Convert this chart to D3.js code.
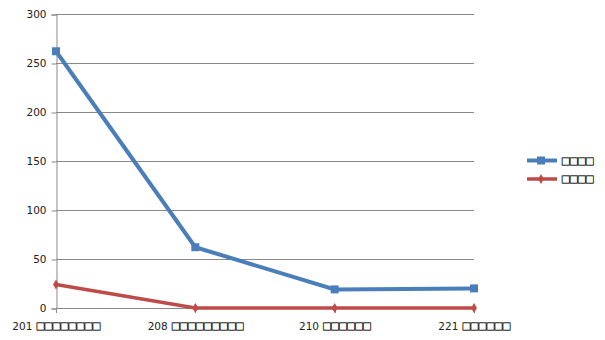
<!DOCTYPE html>
<html>
<head>
<meta charset="utf-8">
<script src="https://cdn.jsdelivr.net/npm/d3@7"></script>
<style>
  body { margin: 0; background: #fff; }
  text { font-family: "DejaVu Sans", sans-serif; }
</style>
</head>
<body>
<div id="chart"></div>
<script>
"use strict"

/* data (the names only show as empty boxes in the reference) */
let categories = ["201 □□□□□□□□", "208 □□□□□□□□□", "210 □□□□□□", "221 □□□□□□"];
let seriesNames = ["□□□□", "□□□□"];
let blueValues = [262, 62, 19, 20];
let redValues = [24, 0, 0, 0];
let yTickValues = [0, 50, 100, 150, 200, 250, 300];

/* drawing config */
let svgWidth = 605;
let svgHeight = 340;
let blue = "#4a7ebb";
let red = "#be4b48";
let gridColor = "#898989";
let boxAdvance = 8; // width per box glyph in the reference

let svg = d3.select("#chart")
    .append("svg")
    .attr("width", svgWidth)
    .attr("height", svgHeight);

let xScale = d3.scalePoint()
    .domain(categories)
    .range([56, 474]);

let yScale = d3.scaleLinear()
    .domain([0, 300])
    .range([308, 14]);

/* horizontal grid */
svg.selectAll(".grid")
    .data(yTickValues)
    .join("line")
    .attr("class", "grid")
    .attr("x1", xScale.range()[0])
    .attr("x2", xScale.range()[1])
    .attr("y1", d => Math.round(yScale(d)) + 0.5)
    .attr("y2", d => Math.round(yScale(d)) + 0.5)
    .attr("stroke", gridColor)
    .attr("stroke-width", 1);

/* y axis */
let yAxis = svg.append("g")
    .attr("transform", "translate(56.5,0.5)")
    .call(d3.axisLeft(yScale).tickValues(yTickValues).tickSize(5).tickPadding(5));
yAxis.select(".domain").attr("stroke", gridColor);
yAxis.selectAll(".tick line").attr("stroke", gridColor);
yAxis.selectAll(".tick text")
    .attr("fill", "#222")
    .style("font-size", "10.5px")
    .style("font-family", "DejaVu Sans, sans-serif");

/* x axis ticks */
svg.selectAll(".xtick")
    .data(categories)
    .join("line")
    .attr("class", "xtick")
    .attr("x1", d => Math.round(xScale(d)) + 0.5)
    .attr("x2", d => Math.round(xScale(d)) + 0.5)
    .attr("y1", yScale(0))
    .attr("y2", yScale(0) + 5)
    .attr("stroke", gridColor);

// text made of a number part and a box part
function boxText(sel) {
    sel.each(function(d) {
        let t = d3.select(this);
        let parts = d.split(" ");
        if (parts.length > 1) {
            t.append("tspan")
                .attr("fill", "#222")
                .style("font-size", "10.5px")
                .text(parts[0] + " ");
        }
        let boxes = t.append("tspan")
            .attr("class", "boxes")
            .attr("fill", "#000")
            .attr("stroke", "#000")
            .attr("stroke-width", 0.3)
            .style("font-family", "Noto Sans CJK SC, sans-serif")
            .style("font-size", "9.5px")
            .text(parts[parts.length - 1]);
        let n = parts[parts.length - 1].length;
        let adv = boxes.node().getComputedTextLength() / n;
        boxes.attr("letter-spacing", boxAdvance - adv);
    });
}

svg.selectAll(".xlabel")
    .data(categories)
    .join("text")
    .attr("class", "xlabel")
    .attr("x", d => xScale(d))
    .attr("y", 330)
    .attr("text-anchor", "middle")
    .call(boxText);

/* lines */
let line = d3.line()
    .x((d, i) => xScale(categories[i]))
    .y(d => yScale(d));

svg.append("path")
    .datum(redValues)
    .attr("d", line)
    .attr("fill", "none")
    .attr("stroke", red)
    .attr("stroke-width", 3.5);

svg.append("path")
    .datum(blueValues)
    .attr("d", line)
    .attr("fill", "none")
    .attr("stroke", blue)
    .attr("stroke-width", 4);

/* markers */
let square = d3.symbol().type(d3.symbolSquare).size(64);
let diamond = d3.symbol().type(d3.symbolDiamond).size(30);

svg.selectAll(".blueDot")
    .data(blueValues)
    .join("path")
    .attr("class", "blueDot")
    .attr("d", square)
    .attr("transform", (d, i) => "translate(" + xScale(categories[i]) + "," + yScale(d) + ")")
    .attr("fill", blue);

svg.selectAll(".redDot")
    .data(redValues)
    .join("path")
    .attr("class", "redDot")
    .attr("d", diamond)
    .attr("transform", (d, i) => "translate(" + xScale(categories[i]) + "," + yScale(d) + ")")
    .attr("fill", red);

/* legend */
let legendX = 527;
let legendY = 160.5;
let legendData = [
    { name: seriesNames[0], color: blue, width: 4, symbol: square },
    { name: seriesNames[1], color: red, width: 3.5, symbol: diamond }
];

let legend = svg.selectAll(".legend")
    .data(legendData)
    .join("g")
    .attr("class", "legend")
    .attr("transform", (d, i) => "translate(" + legendX + "," + (legendY + i * 18.5) + ")");

legend.append("line")
    .attr("x1", 0)
    .attr("x2", 30)
    .attr("stroke", d => d.color)
    .attr("stroke-width", d => d.width);

legend.append("path")
    .attr("d", d => d.symbol())
    .attr("transform", "translate(14,0)")
    .attr("fill", d => d.color);

legend.append("text")
    .attr("x", 34)
    .attr("y", 4)
    .datum(d => d.name)
    .call(boxText);
</script>
</body>
</html>
